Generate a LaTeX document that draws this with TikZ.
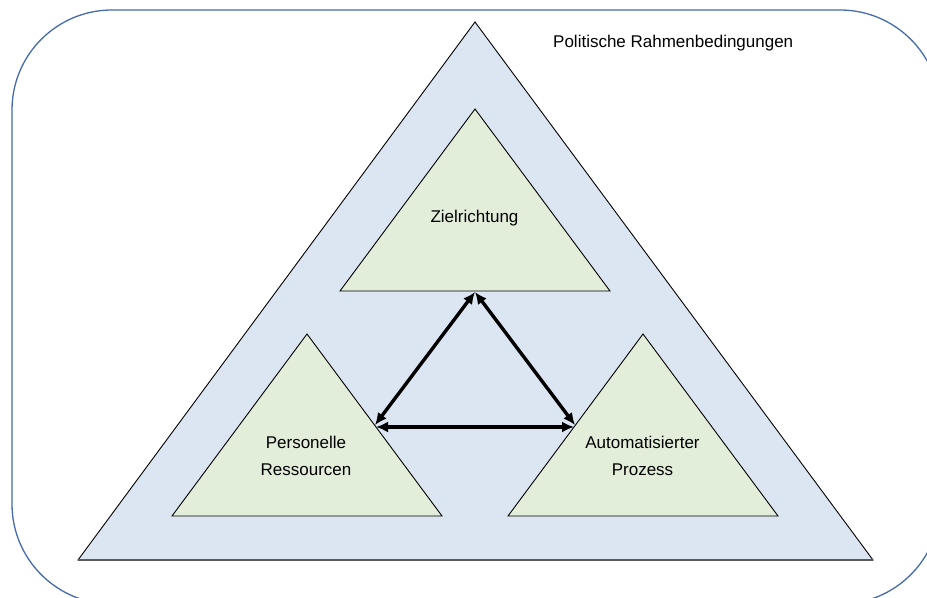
\documentclass[tikz,border=0pt]{standalone}
\usepackage{fontspec}
\setmainfont{Liberation Sans}
\usetikzlibrary{arrows.meta}
\definecolor{frameblue}{RGB}{68,107,172}
\definecolor{outerfill}{RGB}{220,230,242}
\definecolor{innerfill}{RGB}{226,238,218}
\definecolor{basegray}{RGB}{90,90,90}
\tikzset{
  framebox/.style={draw=frameblue, line width=1.3bp, rounded corners=100bp},
  outertri/.style={fill=outerfill, draw=black, line width=0.9bp, line join=miter},
  innertri/.style={fill=innerfill, draw=black, line width=0.9bp, line join=miter},
  conn/.style={{Latex[length=12bp,width=11bp]}-{Latex[length=12bp,width=11bp]}, line width=3.4bp, black},
  lbl/.style={inner sep=0pt, font=\fontsize{17bp}{27bp}\selectfont, text=black}
}
\begin{document}
\begin{tikzpicture}[x=1bp,y=-1bp]
\useasboundingbox (0,0) rectangle (927,598);
\clip (0,0) rectangle (927,598);
\draw[framebox] (12,10) rectangle (940,604);
% outer triangle
\coordinate (oL) at (78,560);
\coordinate (oT) at (475,22);
\coordinate (oR) at (873,560);
\path[outertri] (oL) -- (oT) -- (oR) -- cycle;
\draw[basegray, line width=1.8bp] (oL) -- (oR);
% inner triangles
\coordinate (zL) at (340,291);
\coordinate (zT) at (475,109);
\coordinate (zR) at (610,291);
\path[innertri] (zL) -- (zT) -- (zR) -- cycle;
\coordinate (pL) at (172,516);
\coordinate (pT) at (307,334);
\coordinate (pR) at (442,516);
\path[innertri] (pL) -- (pT) -- (pR) -- cycle;
\coordinate (aL) at (508,516);
\coordinate (aT) at (643,334);
\coordinate (aR) at (778,516);
\path[innertri] (aL) -- (aT) -- (aR) -- cycle;
% connector ends
\coordinate (zb) at (475,292);
\coordinate (ps) at (375,425);
\coordinate (as) at (575,425);
\coordinate (ph) at (376,427);
\coordinate (ah) at (574,427);
\draw[conn] (zb) -- (ps);
\draw[conn] (zb) -- (as);
\draw[conn] (ph) -- (ah);
% labels
\node[lbl, anchor=base west] (pol) at (553,48) {Politische Rahmenbedingungen};
\node[lbl, anchor=base] (ziel) at (474.5,223) {Zielrichtung};
\node[lbl, anchor=base, align=center] (pers) at (306,475) {Personelle\\Ressourcen};
\node[lbl, anchor=base, align=center] (auto) at (642.5,475) {Automatisierter\\Prozess};
\end{tikzpicture}
\end{document}
